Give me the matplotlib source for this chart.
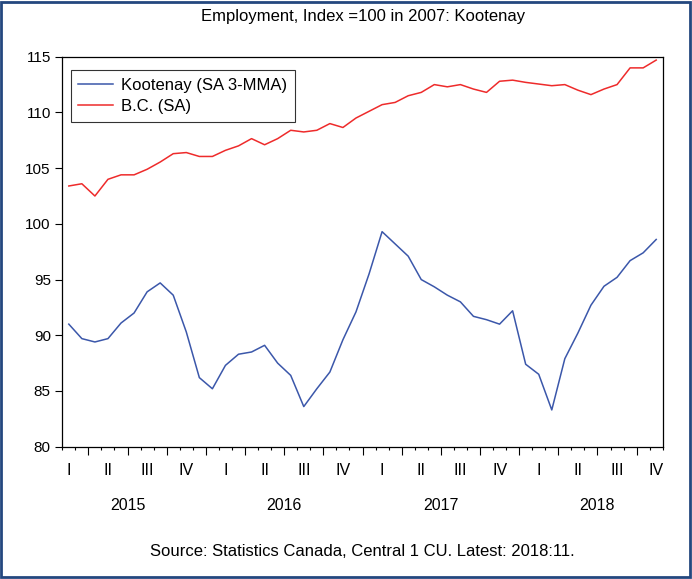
import matplotlib
matplotlib.use("Agg")
from matplotlib import pyplot as plt
from matplotlib.patches import Rectangle
import numpy as np

plt.rcParams['font.family'] = ['Liberation Sans', 'DejaVu Sans']

# monthly data, Feb 2015 .. Nov 2018
kootenay = [91.0, 89.7, 89.4, 89.7, 91.1, 92.0, 93.9, 94.7, 93.6, 90.3,
            86.2, 85.2, 87.3, 88.3, 88.5, 89.1, 87.5, 86.4, 83.6, 85.2,
            86.7, 89.6, 92.1, 95.5, 99.3, 98.2, 97.1, 95.0, 94.35, 93.6,
            93.0, 91.7, 91.4, 91.0, 92.2, 87.4, 86.5, 83.3, 87.9, 90.2,
            92.7, 94.4, 95.2, 96.7, 97.4, 98.6]
bc = [103.4, 103.6, 102.5, 104.0, 104.4, 104.4, 104.9, 105.55, 106.3, 106.4,
      106.05, 106.05, 106.6, 107.0, 107.65, 107.1, 107.65, 108.4, 108.25, 108.4,
      109.0, 108.65, 109.5, 110.1, 110.7, 110.9, 111.5, 111.8, 112.5, 112.3,
      112.5, 112.1, 111.8, 112.8, 112.9, 112.7, 112.55, 112.4, 112.5, 112.0,
      111.6, 112.1, 112.5, 114.0, 114.0, 114.7]
quarters = ["I", "II", "III", "IV"] * 4
years = ["2015", "2016", "2017", "2018"]

x = np.arange(len(kootenay))

fig = plt.figure(figsize=(6.92, 5.79), dpi=100)
ax = fig.add_axes([0.090, 0.2285, 0.8677, 0.6735])

ax.plot(x, kootenay, color="#3b57aa", lw=1.1, label="Kootenay (SA 3-MMA)")
ax.plot(x, bc, color="#ee2b2b", lw=1.1, label="B.C. (SA)")

ax.set_xlim(-0.5, len(x) - 0.5)
ax.set_ylim(80, 115)
ax.set_yticks(range(80, 116, 5))
ax.tick_params(axis='y', direction='out', length=4.8, width=0.8, labelsize=11, pad=3.5)
ax.tick_params(axis='y', right=False)

# month ticks + quarter boundary ticks
ax.set_xticks(np.arange(-0.5, len(x), 1), minor=True)
ax.set_xticks(np.arange(1.5, len(x), 3))
ax.set_xticklabels([])
ax.tick_params(axis='x', which='major', direction='out', length=5.5, width=0.8)
ax.tick_params(axis='x', which='minor', direction='out', length=2.5, width=0.8)

tr = ax.get_xaxis_transform()
for k, q in enumerate(quarters):
    ax.text(k * 3, -0.06, q, transform=tr, ha='center', va='center', fontsize=11.5)
for k, yr in enumerate(years):
    ax.text(4.5 + k * 12, -0.15, yr, transform=tr, ha='center', va='center', fontsize=11.5)

for s in ax.spines.values():
    s.set_linewidth(0.9)

leg = ax.legend(loc='upper left', bbox_to_anchor=(0.0145, 0.966), fontsize=12,
                fancybox=False, frameon=True, edgecolor='black', handlelength=2.1,
                borderpad=0.45, labelspacing=0.4, handletextpad=0.45, borderaxespad=0)
leg.get_frame().set_linewidth(0.8)

fig.text(0.524, 0.972, "Employment, Index =100 in 2007: Kootenay", ha='center', va='center', fontsize=12)
fig.text(0.524, 0.047, "Source: Statistics Canada, Central 1 CU. Latest: 2018:11.", ha='center', va='center', fontsize=12)

fig.patches.append(Rectangle((0.002, 0.004), 0.995, 0.993, transform=fig.transFigure,
                             fill=False, edgecolor='#24477f', lw=2.0))

fig.savefig("out.png", dpi=100)
